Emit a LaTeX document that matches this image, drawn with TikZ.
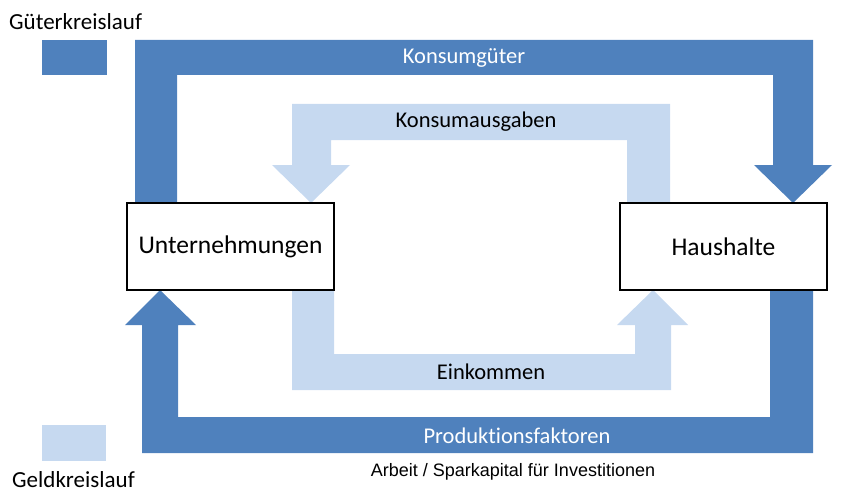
\documentclass[tikz,border=0pt]{standalone}
\usepackage{fontspec}
\setmainfont[RawFeature=-liga]{Carlito}
\newfontfamily\arialfont{Liberation Sans}
\definecolor{darkb}{HTML}{4F81BD}
\definecolor{lightb}{HTML}{C6D9F0}
\begin{document}
\begin{tikzpicture}[x=1pt,y=-1pt,
  box/.style={draw=black,line width=1.3pt,fill=white,minimum width=207pt,minimum height=87pt,inner sep=0pt,font=\fontsize{25.5}{30}\selectfont},
  lab/.style={font=\fontsize{22.5}{27}\selectfont,inner sep=0pt},
  leg/.style={font=\fontsize{23}{27}\selectfont,inner sep=0pt}]
\useasboundingbox (0,0) rectangle (844,495);
% dark top arrow: Konsumgueter
\fill[darkb] (135,203) -- (135,40) -- (813,40) -- (813,165) -- (832,165) -- (793,203) -- (754,165) -- (773,165) -- (773,75) -- (177,75) -- (177,203) -- cycle;
% light top arrow: Konsumausgaben
\fill[lightb] (670,203) -- (670,104) -- (292,104) -- (292,165) -- (272,165) -- (311,203) -- (350,165) -- (331,165) -- (331,140) -- (627,140) -- (627,203) -- cycle;
% light bottom arrow: Einkommen
\fill[lightb] (292,290) -- (292,390) -- (671,390) -- (671,325) -- (688,325) -- (653,290) -- (617,325) -- (635,325) -- (635,354) -- (334,354) -- (334,290) -- cycle;
% dark bottom arrow: Produktionsfaktoren
\fill[darkb] (813,290) -- (813,453) -- (142,453) -- (142,325) -- (125,325) -- (160,290) -- (196,325) -- (178,325) -- (178,417) -- (770,417) -- (770,290) -- cycle;
% boxes
\node[box] (u) at (230.5,246.5) {Unternehmungen};
\node[box] (h) at (723.5,246.5) {Haushalte};
% labels
\node[lab,text=white] (kg) at (464,58) {Konsumgüter};
\node[lab] (ka) at (476,122) {Konsumausgaben};
\node[lab] (ek) at (491,372) {Einkommen};
\node[lab,text=white] (pf) at (517,436) {Produktionsfaktoren};
\node[font=\arialfont\fontsize{18}{21}\selectfont,inner sep=0pt] (ar) at (513,472) {Arbeit / Sparkapital für Investitionen};
% legend
\fill[darkb] (42,40) rectangle (107,75);
\fill[lightb] (42,425) rectangle (106,461);
\node[leg,anchor=west] (gk) at (9,22) {Güterkreislauf};
\node[leg,anchor=west] (gd) at (12,480) {Geldkreislauf};
\end{tikzpicture}
\end{document}
